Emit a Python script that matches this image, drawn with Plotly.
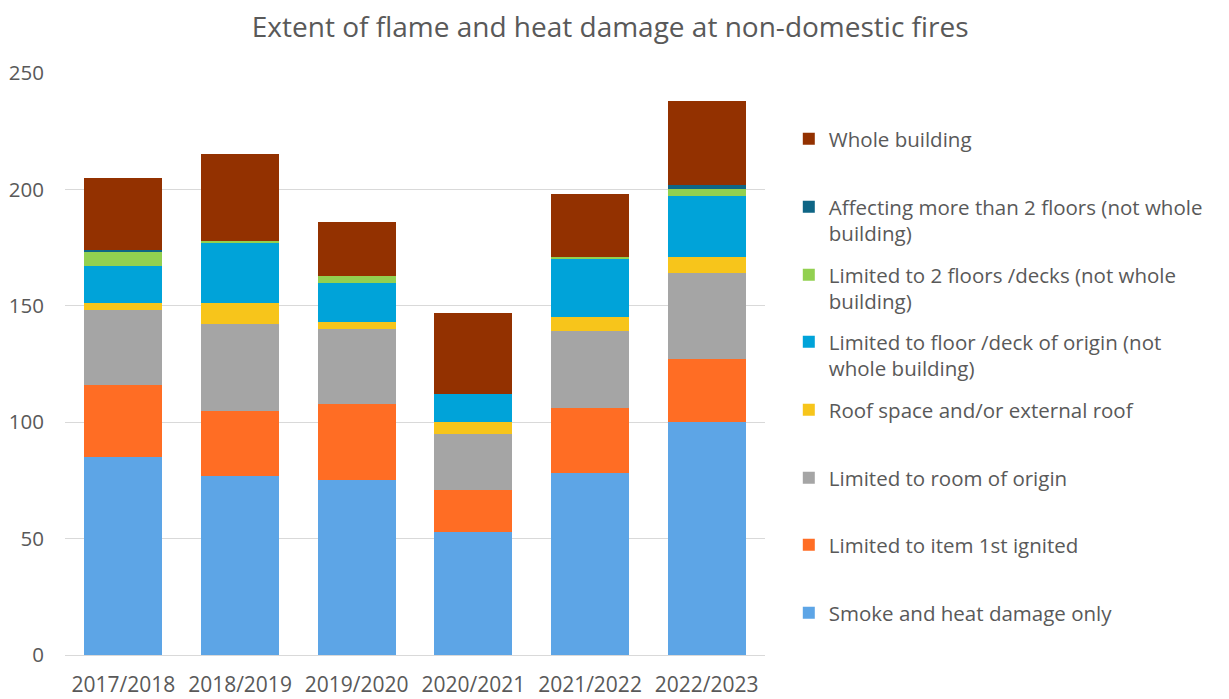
import plotly.graph_objects as go

years = ["2017/2018", "2018/2019", "2019/2020", "2020/2021", "2021/2022", "2022/2023"]
smoke = [85, 77, 75, 53, 78, 100]
item = [31, 28, 33, 18, 28, 27]
room = [32, 37, 32, 24, 33, 37]
roof = [3, 9, 3, 5, 6, 7]
floor_origin = [16, 26, 17, 12, 25, 26]
two_floors = [6, 1, 3, 0, 1, 3]
more_two = [1, 0, 0, 0, 0, 2]
whole = [31, 37, 23, 35, 27, 36]

series = [
    ("Smoke and heat damage only", smoke, "#5DA5E6"),
    ("Limited to item 1st ignited", item, "#FF6D24"),
    ("Limited to room of origin", room, "#A5A5A5"),
    ("Roof space and/or external roof", roof, "#F7C51B"),
    ("Limited to floor /deck of origin (not<br>whole building)", floor_origin, "#00A3D9"),
    ("Limited to 2 floors /decks (not whole<br>building)", two_floors, "#92D050"),
    ("Affecting more than 2 floors (not whole<br>building)", more_two, "#0E6585"),
    ("Whole building", whole, "#933100"),
]

# legend marker pixel rows (from bottom entry to top entry)
marker_px = [611, 543, 476, 408, 340, 273, 205, 137]

fig = go.Figure()
FONT = "Open Sans"
layout_legends = {}
for i, (name, vals, col) in enumerate(series):
    lg = "legend" if i == 0 else f"legend{i+1}"
    fig.add_trace(go.Bar(name=name, x=years, y=vals, marker_color=col,
                         marker_line_width=0, legend=lg, showlegend=True))
    ypos = (655 - (marker_px[i] - 18)) / 582
    layout_legends[lg] = dict(
        x=1.034, xanchor="left", y=ypos, yanchor="top",
        font=dict(family=FONT, size=20.5, color="#595959"),
        bgcolor="rgba(0,0,0,0)", valign="top", itemclick=False,
        visible=True,
    )

fig.update_layout(
    barmode="stack",
    bargap=0.333,
    showlegend=True,
    width=1229, height=699,
    margin=dict(l=57, r=472, t=65, b=52, autoexpand=False),
    paper_bgcolor="white", plot_bgcolor="white",
    title=dict(text="Extent of flame and heat damage at non-domestic fires",
               x=0.49, xref="container", xanchor="center",
               y=0.987, yanchor="top",
               font=dict(family=FONT, size=28, color="#595959")),
    font=dict(family=FONT, size=20.5, color="#595959"),
    **layout_legends,
)
fig.update_xaxes(showgrid=False, showline=False, ticks="", automargin=False,
                 ticklabelstandoff=15,
                 tickfont=dict(family=FONT, size=21, color="#595959"))
fig.update_yaxes(range=[0, 250], dtick=50, showgrid=True, gridcolor="#D9D9D9",
                 gridwidth=1, zeroline=True, zerolinecolor="#D9D9D9", zerolinewidth=1,
                 ticks="", ticklabelstandoff=20, automargin=False,
                 tickfont=dict(family=FONT, size=20.5, color="#595959"))

fig.write_html("out.html")
